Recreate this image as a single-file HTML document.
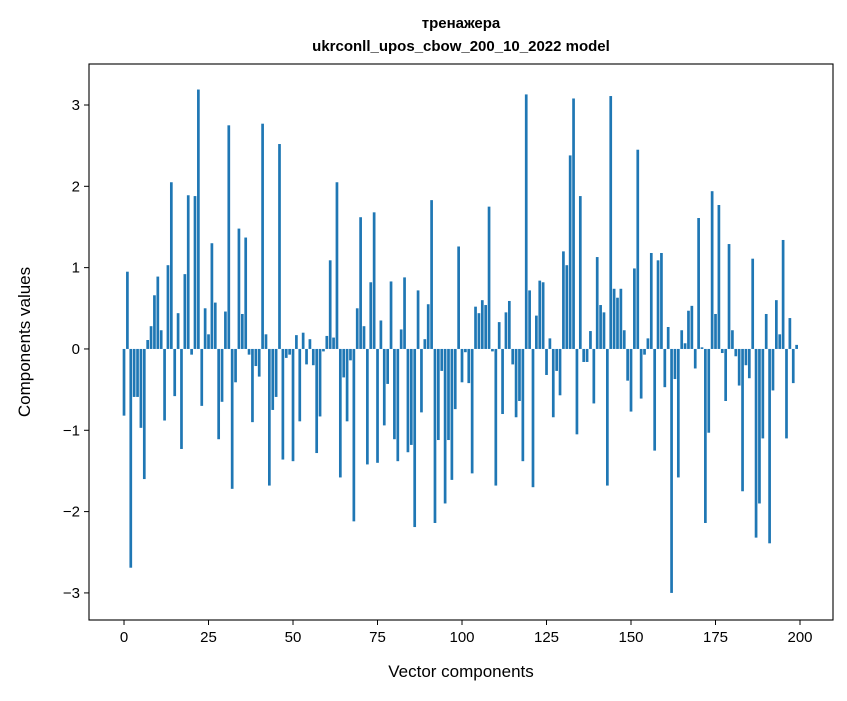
<!DOCTYPE html>
<html><head><meta charset="utf-8"><style>
body{margin:0;background:#fff;}
svg text{font-family:"Liberation Sans","DejaVu Sans",sans-serif;fill:#000;}
</style></head><body>
<svg id="chart" width="847" height="696" xmlns="http://www.w3.org/2000/svg">
<rect width="847" height="696" fill="#fff"/>
<text x="461" y="28" text-anchor="middle" font-size="15" font-weight="bold">тренажера</text>
<text x="461" y="51" text-anchor="middle" font-size="15" font-weight="bold">ukrconll_upos_cbow_200_10_2022 model</text>
<g id="bars"></g>
<g id="axes"></g>
<text x="461" y="677" text-anchor="middle" font-size="17">Vector components</text>
<text transform="translate(30,342) rotate(-90)" text-anchor="middle" font-size="17">Components values</text>
</svg>
<script>
const values = [-0.82,0.95,-2.69,-0.59,-0.59,-0.97,-1.6,0.11,0.28,0.66,0.89,0.23,-0.88,1.03,2.05,-0.58,0.44,-1.23,0.92,1.89,-0.07,1.88,3.19,-0.7,0.5,
0.18,1.3,0.57,-1.11,-0.65,0.46,2.75,-1.72,-0.41,1.48,0.43,1.37,-0.07,-0.9,-0.21,-0.34,2.77,0.18,-1.68,-0.75,-0.59,2.52,-1.36,-0.11,-0.07,
-1.38,0.17,-0.89,0.2,-0.19,0.12,-0.2,-1.28,-0.83,-0.03,0.16,1.09,0.14,2.05,-1.58,-0.35,-0.89,-0.14,-2.12,0.5,1.62,0.28,-1.42,0.82,1.68,
-1.4,0.35,-0.94,-0.43,0.83,-1.11,-1.38,0.24,0.88,-1.27,-1.18,-2.19,0.72,-0.78,0.12,0.55,1.83,-2.14,-1.12,-0.27,-1.9,-1.12,-1.61,-0.74,1.26,
-0.41,-0.04,-0.42,-1.53,0.52,0.44,0.6,0.54,1.75,-0.03,-1.68,0.33,-0.8,0.45,0.59,-0.19,-0.84,-0.64,-1.38,3.13,0.72,-1.7,0.41,0.84,0.82,
-0.32,0.13,-0.84,-0.27,-0.57,1.2,1.03,2.38,3.08,-1.05,1.88,-0.16,-0.16,0.22,-0.67,1.13,0.54,0.45,-1.68,3.11,0.74,0.63,0.74,0.23,-0.39,
-0.77,0.99,2.45,-0.61,-0.07,0.13,1.18,-1.25,1.09,1.18,-0.47,0.27,-3.0,-0.37,-1.58,0.23,0.07,0.47,0.53,-0.24,1.61,0.02,-2.14,-1.03,1.94,
0.43,1.77,-0.05,-0.64,1.29,0.23,-0.09,-0.45,-1.75,-0.2,-0.36,1.11,-2.32,-1.9,-1.1,0.43,-2.39,-0.51,0.6,0.18,1.34,-1.1,0.38,-0.42,0.05];
const xTicks = [0,25,50,75,100,125,150,175,200];
const yTicks = [-3,-2,-1,0,1,2,3];
const NS="http://www.w3.org/2000/svg";
const L=89,R=833,T=64,B=620;
const xMin=-10.36,xMax=209.76,yMin=-3.333,yMax=3.504;
function sx(v){return L+(v-xMin)/(xMax-xMin)*(R-L);}
function sy(v){return B-(v-yMin)/(yMax-yMin)*(B-T);}
const bars=document.getElementById('bars');
values.forEach((v,i)=>{
  const r=document.createElementNS(NS,'rect');
  const x0=sx(i-0.4),x1=sx(i+0.4);
  const y0=sy(Math.max(v,0)),y1=sy(Math.min(v,0));
  r.setAttribute('x',x0);r.setAttribute('width',x1-x0);
  r.setAttribute('y',y0);r.setAttribute('height',Math.max(y1-y0,0.3));
  r.setAttribute('fill','#1f77b4');
  
  
  bars.appendChild(r);
});
const ax=document.getElementById('axes');
const frame=document.createElementNS(NS,'rect');
frame.setAttribute('x',L);frame.setAttribute('y',T);frame.setAttribute('width',R-L);frame.setAttribute('height',B-T);
frame.setAttribute('fill','none');frame.setAttribute('stroke','#000');frame.setAttribute('stroke-width','1.1');


ax.appendChild(frame);
xTicks.forEach(t=>{
  const x=sx(t);
  const l=document.createElementNS(NS,'line');
  l.setAttribute('x1',x);l.setAttribute('x2',x);l.setAttribute('y1',B);l.setAttribute('y2',B+5);l.setAttribute('stroke','#000');
  
  
  ax.appendChild(l);
  const tx=document.createElementNS(NS,'text');
  tx.setAttribute('x',x);tx.setAttribute('y',B+22);tx.setAttribute('text-anchor','middle');tx.setAttribute('font-size','15');
  tx.textContent=t;
  
  
  ax.appendChild(tx);
});
yTicks.forEach(t=>{
  const y=sy(t);
  const l=document.createElementNS(NS,'line');
  l.setAttribute('x1',L-5);l.setAttribute('x2',L);l.setAttribute('y1',y);l.setAttribute('y2',y);l.setAttribute('stroke','#000');
  
  
  ax.appendChild(l);
  const tx=document.createElementNS(NS,'text');
  tx.setAttribute('x',L-9);tx.setAttribute('y',y+5);tx.setAttribute('text-anchor','end');tx.setAttribute('font-size','15');
  tx.textContent=t<0?'\u2212'+Math.abs(t):t;
  
  
  ax.appendChild(tx);
});
</script>
</body></html>
